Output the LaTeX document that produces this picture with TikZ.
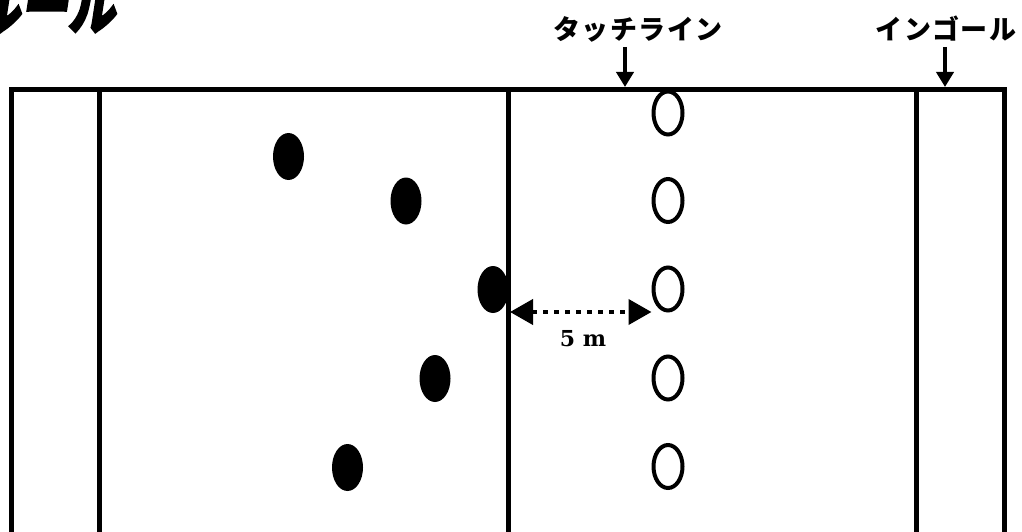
\documentclass[tikz,border=0pt]{standalone}
\usepackage{fontspec}
\usetikzlibrary{shapes.geometric,arrows.meta}
\newfontfamily\jplabel{Noto Sans CJK JP}[LetterSpace=5]
\newfontfamily\jptitle{Noto Sans CJK JP}[FakeSlant=0.2,FakeBold=3]
\newfontfamily\numfont{DejaVu Serif}
\begin{document}
\begin{tikzpicture}[x=1pt,y=-1pt,
  fieldline/.style={line width=5pt},
  player/.style={ellipse, fill=black, minimum width=31pt, minimum height=47pt, inner sep=0pt},
  marker/.style={ellipse, draw=black, line width=4pt, minimum width=29pt, minimum height=43pt, inner sep=0pt},
  pointer/.style={line width=4pt, -{Triangle[length=15pt,width=17pt]}},
  gap/.style={line width=4pt, dash pattern=on 5pt off 6pt, {Triangle[length=23pt,width=25pt]}-{Triangle[length=23pt,width=25pt]}},
  jlabel/.style={font=\jplabel\bfseries\fontsize{27}{30}\selectfont, anchor=base, inner sep=0pt},
  dlabel/.style={font=\numfont\bfseries\fontsize{22}{24}\selectfont, anchor=base, inner sep=0pt}]
\useasboundingbox (0,0) rectangle (1022,532);
\clip (0,0) rectangle (1022,532);
% title (cropped)
\node[anchor=base, inner sep=0pt] (title) at (44,29)
  {\scalebox{0.95}[1.25]{\jptitle\bfseries\fontsize{50}{55}\selectfont ルール}};
% field
\draw[fieldline] (11.5,545) -- (11.5,89.5) -- (1004.5,89.5) -- (1004.5,545);
\draw[fieldline] (99,89.5) -- (99,545);
\draw[fieldline] (508.5,89.5) -- (508.5,545);
\draw[fieldline] (916.5,89.5) -- (916.5,545);
% players
\node[player] (p1) at (288.5,156.5) {};
\node[player] (p2) at (406,201) {};
\node[player] (p3) at (493,289.5) {};
\node[player] (p4) at (435,378.5) {};
\node[player] (p5) at (347.5,467.5) {};
% markers
\node[marker] (m1) at (668,113) {};
\node[marker] (m2) at (668,200.5) {};
\node[marker] (m3) at (668,289) {};
\node[marker] (m4) at (668,378) {};
\node[marker] (m5) at (668,466.5) {};
% distance
\coordinate (mid) at (510,312);
\draw[gap] (mid) -- (mid -| m3.west);
\node[dlabel] (dist) at (583,346) {5 m};
% labels
\node[jlabel] (touch) at (638,40) {タッチライン};
\node[jlabel] (ingoal) at (946,40) {インゴール};
\coordinate (t1) at (625,47);
\coordinate (t2) at (625,87);
\coordinate (g1) at (945,47);
\coordinate (g2) at (945,87);
\draw[pointer] (t1) -- (t2);
\draw[pointer] (g1) -- (g2);
\end{tikzpicture}
\end{document}
